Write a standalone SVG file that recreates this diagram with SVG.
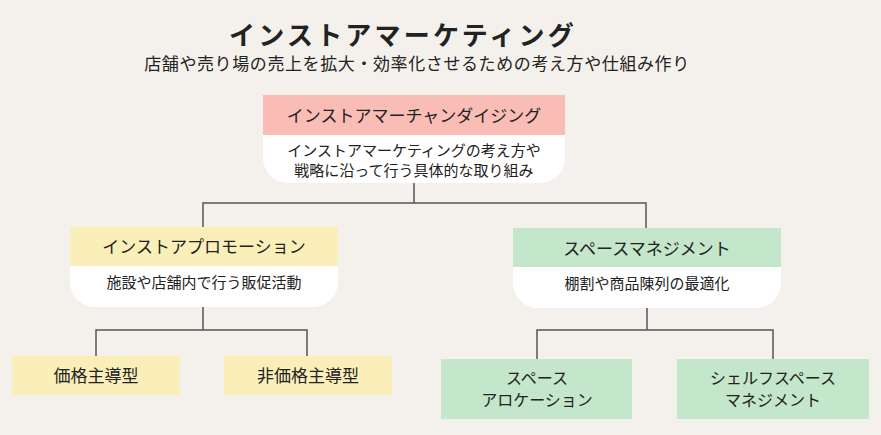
<svg xmlns="http://www.w3.org/2000/svg" width="881" height="435" viewBox="0 0 881 435">
<style>
text{font-family:"Noto Sans CJK JP","Noto Sans",sans-serif;fill:#222;text-anchor:middle;dominant-baseline:central}
.title{font-size:26px;font-weight:bold;letter-spacing:3.2px}
.sub{font-size:17px;letter-spacing:0.6px}
.h{font-size:17px}
.b{font-size:15px}
.l{font-size:16px}
.pink{fill:#f9bdb6}
.yel{fill:#fbefb9}
.grn{fill:#c4e6ca}
.body{fill:#ffffff}
.con{fill:none;stroke:#555;stroke-width:1.5}
</style>
<rect width="881" height="435" fill="#f4f0eb"/>
<g id="title">
<text class="title" x="403" y="33">インストアマーケティング</text>
<text class="sub" x="417" y="62">店舗や売り場の売上を拡大・効率化させるための考え方や仕組み作り</text>
</g>
<g id="connectors">
<path class="con" d="M414,183 V203 M203,227 V203 H646 V228"/>
<path class="con" d="M203,307 V330 M96,356 V330 H307 V356"/>
<path class="con" d="M647,308 V330 M537,359 V330 H773 V359"/>
</g>
<g id="node-merch">
<rect class="pink" x="263" y="95" width="302" height="40"/>
<path class="body" d="M263,135 H565 V158 A25,25 0 0 1 540,183 H288 A25,25 0 0 1 263,158 Z"/>
<text class="h" x="414" y="114">インストアマーチャンダイジング</text>
<text class="b" x="414" y="149">インストアマーケティングの考え方や</text>
<text class="b" x="414" y="169">戦略に沿って行う具体的な取り組み</text>
</g>
<g id="node-promo">
<rect class="yel" x="70" y="227" width="268" height="39"/>
<path class="body" d="M70,266 H338 V282 A25,25 0 0 1 313,307 H95 A25,25 0 0 1 70,282 Z"/>
<text class="h" x="204" y="245">インストアプロモーション</text>
<text class="b" x="204" y="281">施設や店舗内で行う販促活動</text>
</g>
<g id="node-space">
<rect class="grn" x="513" y="228" width="268" height="39"/>
<path class="body" d="M513,267 H781 V283 A25,25 0 0 1 756,308 H538 A25,25 0 0 1 513,283 Z"/>
<text class="h" x="647" y="247">スペースマネジメント</text>
<text class="b" x="647" y="282">棚割や商品陳列の最適化</text>
</g>
<g id="node-price">
<rect class="yel" x="12" y="356" width="168" height="39"/>
<text class="h" x="96" y="374">価格主導型</text>
</g>
<g id="node-nonprice">
<rect class="yel" x="224" y="356" width="168" height="39"/>
<text class="h" x="308" y="374">非価格主導型</text>
</g>
<g id="node-alloc">
<rect class="grn" x="441" y="359" width="191" height="60"/>
<text class="l" x="537" y="377">スペース</text>
<text class="l" x="537" y="399">アロケーション</text>
</g>
<g id="node-shelf">
<rect class="grn" x="677" y="359" width="192" height="60"/>
<text class="l" x="773" y="377">シェルフスペース</text>
<text class="l" x="773" y="399">マネジメント</text>
</g>
</svg>
